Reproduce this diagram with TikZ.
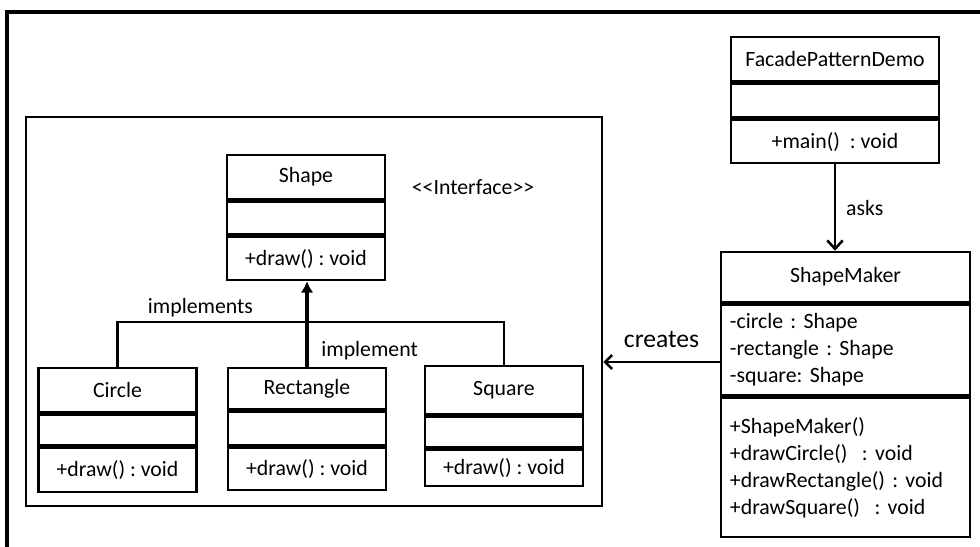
\documentclass[tikz,border=0pt]{standalone}
\usepackage{fontspec}
\setmainfont{Carlito}[Ligatures=TeXOff]
\usetikzlibrary{positioning,arrows.meta}
\frenchspacing

\tikzset{
  txt/.style={font=\fontsize{15.5}{19.2}\selectfont},
  cls/.style={draw, line width=1.8pt, inner sep=0pt, txt},
  small/.style={cls, minimum width=3.95cm},
  lbl/.style={inner sep=2pt, txt},
  list/.style={cls, minimum width=6.225cm, text width=5.775cm, inner xsep=0.225cm, align=left},
}

\begin{document}
\begin{tikzpicture}[x=0.025cm, y=-0.025cm]
\useasboundingbox (0,0) rectangle (980,546);
\clip (0,0) rectangle (980,546);
% Frame
\draw [line width=2.6pt] (7,12) rectangle (1000,570);
\node [draw, line width=1.8pt, minimum width=14.4cm, minimum height=9.725cm] (pkg) at (314,311.5) {};

% Interface
\node [small, minimum height=1.1cm] (shape) at (306,177) {Shape};
\node [small, minimum height=0.825cm, below=0pt of shape] (shape-a) {};
\node [small, minimum height=1.075cm, below=0pt of shape-a] (shape-m) {+draw() : void};
\node [lbl] (stereo) at (473,187) {<<Interface>>};

% Concrete classes
\node [small, minimum height=1.1cm] (circle) at (117.5,390) {Circle};
\node [small, minimum height=0.775cm, below=0pt of circle] (circle-a) {};
\node [small, minimum height=1.1cm, below=0pt of circle-a] (circle-m) {+draw() : void};

\node [small, minimum height=1.025cm] (rect) at (307,388.5) {Rectangle};
\node [small, minimum height=0.85cm, below=0pt of rect] (rect-a) {};
\node [small, minimum height=1.05cm, below=0pt of rect-a] (rect-m) {+draw() : void};

\node [small, minimum height=1.2cm] (square) at (504,390) {Square};
\node [small, minimum height=0.775cm, below=0pt of square] (square-a) {};
\node [small, minimum height=0.9cm, below=0pt of square-a] (square-m) {+draw() : void};

% Facade
\node [cls, minimum width=5.2cm, minimum height=1.1cm] (demo) at (835,59) {FacadePatternDemo};
\node [cls, minimum width=5.2cm, minimum height=0.85cm, below=0pt of demo] (demo-a) {};
\node [cls, minimum width=5.2cm, minimum height=1.075cm, below=0pt of demo-a] (demo-m) {+main()~ : void};

\node [cls, minimum width=6.225cm, minimum height=1.25cm] (maker) at (845.5,277) {ShapeMaker};
\node [list, minimum height=2.275cm, below=0pt of maker] (maker-a) {-circle : Shape\\-rectangle : Shape\\-square: Shape};
\node [list, minimum height=3.475cm, below=0pt of maker-a] (maker-m) {+ShapeMaker()\\+drawCircle()~ : void\\+drawRectangle() : void\\+drawSquare()~ : void};

% Connectors
\coordinate (bar) at (306,322);
\coordinate (crY) at (0,362);
\draw [line width=1.8pt] (circle.north) |- (bar) node[lbl, pos=0.72, above=1pt] {implements} -| (square.north);
\draw [line width=2.4pt, -{Latex[length=8pt,width=9pt]}] (rect.north) -- (rect.north |- shape-m.south) node[lbl, pos=0.19, right=7pt] {implement};
\draw [line width=1.8pt, -{Straight Barb[length=6pt,width=11pt]}] (demo-m.south) -- (demo-m.south |- maker.north) node[lbl, midway, right=5pt] {asks};
\draw [line width=1.8pt, -{Straight Barb[length=5pt,width=10pt]}] (maker-a.west |- crY) -- (pkg.east |- crY) node[lbl, midway, above=7pt, font=\fontsize{18.2}{21}\selectfont] {creates};
\end{tikzpicture}
\end{document}
